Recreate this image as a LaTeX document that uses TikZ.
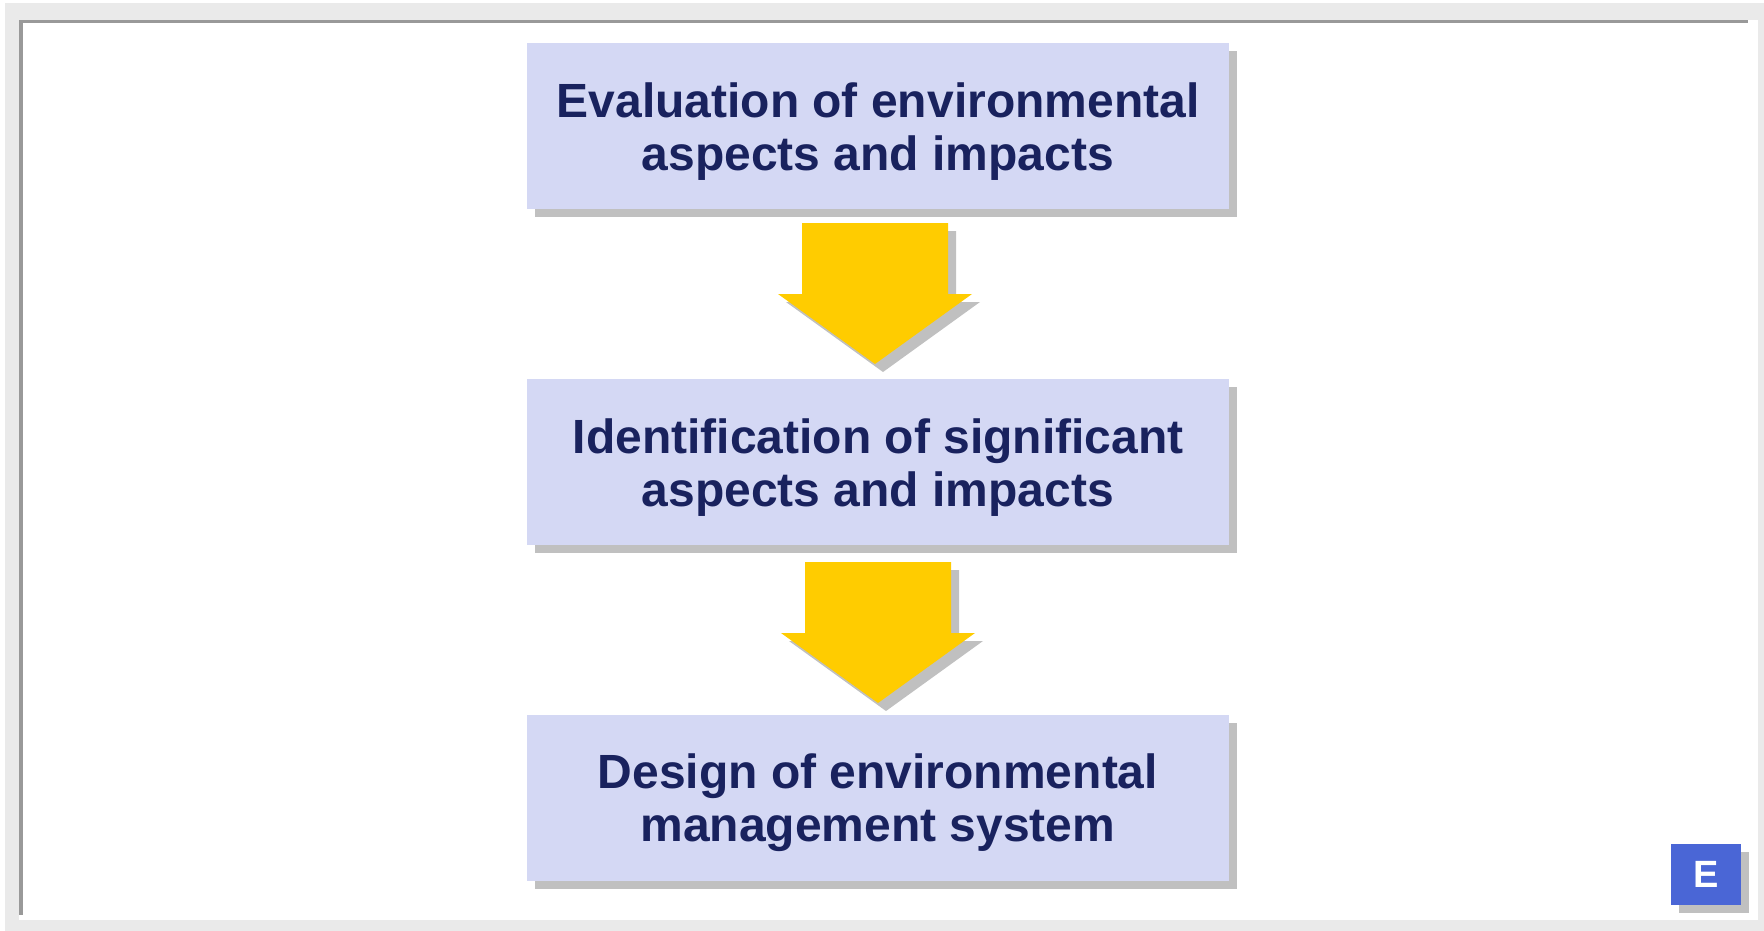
\documentclass[tikz,border=0pt]{standalone}
\usepackage{fontspec}
\setmainfont{Liberation Sans}
\usetikzlibrary{shadows}
\definecolor{framegray}{HTML}{EAEAEA}
\definecolor{linegray}{HTML}{999999}
\definecolor{shadowgray}{HTML}{C0C0C0}
\definecolor{boxfill}{HTML}{D4D8F4}
\definecolor{textnavy}{HTML}{19225E}
\definecolor{arrowyellow}{HTML}{FFCC00}
\definecolor{badgeblue}{HTML}{4A66D6}
\newcommand{\topstrut}{\rule{0pt}{45pt}}
\tikzset{
  stepbox/.style={rectangle, fill=boxfill, draw=none, inner sep=0pt,
    minimum width=702pt, minimum height=166pt, align=center,
    text=textnavy, font=\fontsize{48}{53}\selectfont\bfseries,
    drop shadow={shadow xshift=8pt, shadow yshift=-8pt, opacity=1, fill=shadowgray}},
  badge/.style={rectangle, fill=badgeblue, draw=none, inner sep=0pt,
    minimum width=70pt, minimum height=61pt, text=white,
    font=\fontsize{38}{40}\selectfont\bfseries,
    drop shadow={shadow xshift=8pt, shadow yshift=-8pt, opacity=1, fill=shadowgray}},
  downarr/.pic={
    \fill[shadowgray, shift={(8,8)}] (-73,0) -- (73,0) -- (73,71) -- (97,71) -- (0,141) -- (-97,71) -- (-73,71) -- cycle;
    \fill[arrowyellow] (-73,0) -- (73,0) -- (73,71) -- (97,71) -- (0,141) -- (-97,71) -- (-73,71) -- cycle;
  }
}
\begin{document}
\begin{tikzpicture}[x=1pt,y=-1pt]
\useasboundingbox (0,0) rectangle (1764,931);
\fill[white] (0,0) rectangle (1764,931);
\fill[framegray] (5,3) rectangle (1764,931);
\fill[white] (19,20) rectangle (1758,920);
\fill[linegray] (19,20) rectangle (1748,23);
\fill[linegray] (19,20) rectangle (23,915);

\node[stepbox] (b1) at (878,126) {\topstrut Evaluation of environmental\\aspects and impacts};
\node[stepbox] (b2) at (878,462) {\topstrut Identification of significant\\aspects and impacts};
\node[stepbox] (b3) at (878,798) {\topstrut Design of environmental\\management system};

\pic at (875,223) {downarr};
\pic at (878,562) {downarr};

\node[badge] (e) at (1706,874.5) {E};
\end{tikzpicture}
\end{document}
